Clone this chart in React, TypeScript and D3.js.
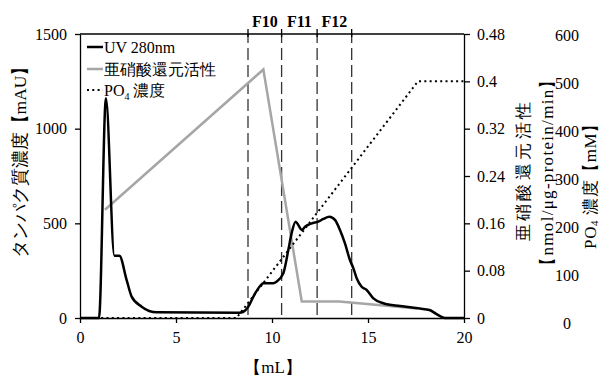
import { useEffect, useRef } from 'react';
import * as d3 from 'd3';

// UV 280nm trace
const uvVolume = [0, 0.99, 1.35, 1.79, 2.05, 2.43, 2.69, 3.21, 4.0, 8.3, 8.51, 8.77, 9.03, 9.38, 9.55, 10.07, 10.24, 10.59, 10.85, 11.02, 11.23, 11.37, 11.55, 11.72, 12.07, 12.41, 12.67, 12.99, 13.28, 13.54, 13.8, 14.06, 14.24, 14.41, 14.67, 14.93, 15.28, 15.8, 16.67, 17.7, 18.2, 18.55, 18.9, 19.1, 20];
const uvAbs = [0, 0, 1160, 329, 329, 200, 113, 60, 30, 28, 33, 60, 113, 169, 183, 183, 192, 236, 359, 447, 509, 491, 465, 482, 500, 509, 523, 535, 518, 465, 394, 306, 262, 210, 165, 148, 104, 78, 63, 50, 42, 22, 3, 0, 0];

// nitrite reductase activity
const actVolume = [1.3, 9.55, 11.55, 13.5, 17.55];
const actValue = [0.183, 0.42, 0.028, 0.028, 0.016];

// PO4 gradient
const po4Volume = [0, 8.15, 17.6, 20];
const po4Conc = [0, 0, 500, 500];

// fraction boundaries
const fracBounds = [8.75, 10.5, 12.35, 14.15];
const fracNames = ['F10', 'F11', 'F12'];

const xTicks = [0, 5, 10, 15, 20];
const leftTicks = [0, 500, 1000, 1500];
const rightTicks = [0, 0.08, 0.16, 0.24, 0.32, 0.4, 0.48];
const po4Ticks = [0, 100, 200, 300, 400, 500, 600];

const SERIF = "'Liberation Serif', 'Times New Roman', Times, serif";

export default function App() {
  const svgRef = useRef<SVGSVGElement>(null);

  useEffect(() => {
    if (!svgRef.current) return;
    const svg = d3.select(svgRef.current);
    svg.selectAll('*').remove();

    const left = 80, right = 464, top = 34, bottom = 318;

    const x = d3.scaleLinear().domain([0, 20]).range([left, right]);
    const yL = d3.scaleLinear().domain([0, 1500]).range([bottom, top]);
    const yR = d3.scaleLinear().domain([0, 0.48]).range([bottom, top]);
    const yP = d3.scaleLinear().domain([0, 600]).range([bottom, top]);
    const yPLabel = d3.scaleLinear().domain([0, 600]).range([323, 35]);

    const g = svg.append('g').attr('font-family', SERIF);

    // fraction dashed lines
    fracBounds.forEach(v => {
      g.append('line')
        .attr('x1', x(v)).attr('x2', x(v))
        .attr('y1', top).attr('y2', bottom)
        .attr('stroke', '#333').attr('stroke-width', 1.3)
        .attr('stroke-dasharray', '12,5')
        .attr('stroke-dashoffset', -14);
      g.append('line')
        .attr('x1', x(v)).attr('x2', x(v))
        .attr('y1', top - 5).attr('y2', top + 3)
        .attr('stroke', '#000').attr('stroke-width', 1.3);
    });
    fracNames.forEach((n, i) => {
      g.append('text')
        .attr('x', (x(fracBounds[i]) + x(fracBounds[i + 1])) / 2)
        .attr('y', 27)
        .attr('text-anchor', 'middle')
        .attr('font-size', 16)
        .attr('font-weight', 'bold')
        .text(n);
    });

    // top frame
    g.append('line')
      .attr('x1', left).attr('x2', right)
      .attr('y1', top).attr('y2', top)
      .attr('stroke', '#000').attr('stroke-width', 1.3);

    // activity line
    const actData = actVolume.map((v, i) => [v, actValue[i]] as [number, number]);
    g.append('path')
      .datum(actData)
      .attr('fill', 'none')
      .attr('stroke', '#a6a6a6')
      .attr('stroke-width', 2.5)
      .attr('d', d3.line<[number, number]>().x(d => x(d[0])).y(d => yR(d[1])));

    // PO4 dotted line
    const po4Data = po4Volume.map((v, i) => [v, po4Conc[i]] as [number, number]);
    g.append('path')
      .datum(po4Data)
      .attr('fill', 'none')
      .attr('stroke', '#000')
      .attr('stroke-width', 2)
      .attr('stroke-dasharray', '2,3.3')
      .attr('d', d3.line<[number, number]>().x(d => x(d[0])).y(d => yP(d[1])));

    // UV line
    const uvData = uvVolume.map((v, i) => [v, uvAbs[i]] as [number, number]);
    g.append('path')
      .datum(uvData)
      .attr('fill', 'none')
      .attr('stroke', '#000')
      .attr('stroke-width', 2.5)
      .attr('stroke-linejoin', 'round')
      .attr('d', d3.line<[number, number]>().x(d => x(d[0])).y(d => yL(d[1])).curve(d3.curveMonotoneX));

    // axes
    const styleAxis = (sel: d3.Selection<SVGGElement, unknown, null, undefined>) => {
      sel.attr('font-family', SERIF).attr('font-size', 16);
      sel.selectAll('path, line').attr('stroke', '#000').attr('stroke-width', 1.3);
      sel.selectAll('text').attr('fill', '#000');
    };

    g.append('g')
      .attr('transform', `translate(0,${bottom})`)
      .call(d3.axisBottom(x).tickValues(xTicks).tickSize(5).tickSizeOuter(0).tickPadding(9).tickFormat(d => String(d)))
      .call(styleAxis);

    g.append('g')
      .attr('transform', `translate(${left},0)`)
      .call(d3.axisLeft(yL).tickValues(leftTicks).tickSize(5).tickSizeOuter(0).tickPadding(8).tickFormat(d => String(d)))
      .call(styleAxis);

    g.append('g')
      .attr('transform', `translate(${right},0)`)
      .call(d3.axisRight(yR).tickValues(rightTicks).tickSize(6).tickSizeOuter(0).tickPadding(7).tickFormat(d => String(+(d as number).toFixed(2))))
      .call(styleAxis);

    // PO4 labels (no axis line)
    po4Ticks.forEach(t => {
      g.append('text')
        .attr('x', 567)
        .attr('y', yPLabel(t))
        .attr('dy', '0.35em')
        .attr('text-anchor', 'middle')
        .attr('font-size', 16)
        .text(String(t));
    });

    // axis titles
    g.append('text')
      .attr('x', 273).attr('y', 367)
      .attr('dy', '0.35em')
      .attr('text-anchor', 'middle')
      .attr('font-size', 17)
      .text('【mL】');

    const vTitle = (cx: number, cy: number, size: number, spacing: number) =>
      g.append('text')
        .attr('transform', `translate(${cx},${cy}) rotate(-90)`)
        .attr('text-anchor', 'middle')
        .attr('dominant-baseline', 'central')
        .attr('fill', '#000')
        .attr('font-size', size)
        .style('letter-spacing', `${spacing}px`);

    vTitle(20, 158, 17.5, 0).text('タンパク質濃度【mAU】');
    vTitle(523, 170, 17, 3.4).text('亜硝酸還元活性');
    vTitle(547, 172, 17, 1.3).text('【nmol/μg-protein/min】');

    const po4Title = vTitle(590, 182, 17, 0.6);
    po4Title.append('tspan').text('PO');
    po4Title.append('tspan').attr('dy', 4).attr('font-size', 11).text('4');
    po4Title.append('tspan').attr('dy', -4).text(' 濃度【mM】');

    // legend
    const legend = g.append('g');
    const items = [
      { label: 'UV 280nm', stroke: '#000', dash: null as string | null, y: 47 },
      { label: '亜硝酸還元活性', stroke: '#a6a6a6', dash: null, y: 69 },
      { label: 'PO4', stroke: '#000', dash: '2,3.3', y: 90 },
    ];
    items.forEach(it => {
      const ln = legend.append('line')
        .attr('x1', 87).attr('x2', 103)
        .attr('y1', it.y).attr('y2', it.y)
        .attr('stroke', it.stroke)
        .attr('stroke-width', it.dash ? 2 : 2.5);
      if (it.dash) ln.attr('stroke-dasharray', it.dash);
      const t = legend.append('text')
        .attr('x', 104).attr('y', it.y)
        .attr('dy', '0.35em')
        .attr('font-size', 16);
      if (it.label === 'PO4') {
        t.append('tspan').text('PO');
        t.append('tspan').attr('dy', 4).attr('font-size', 10).text('4');
        t.append('tspan').attr('dy', -4).text(' 濃度');
      } else {
        t.text(it.label);
      }
    });
  }, []);

  return (
    <svg
      ref={svgRef}
      width={603}
      height={376}
      style={{ position: 'absolute', left: 0, top: 0, background: '#fff' }}
    />
  );
}
